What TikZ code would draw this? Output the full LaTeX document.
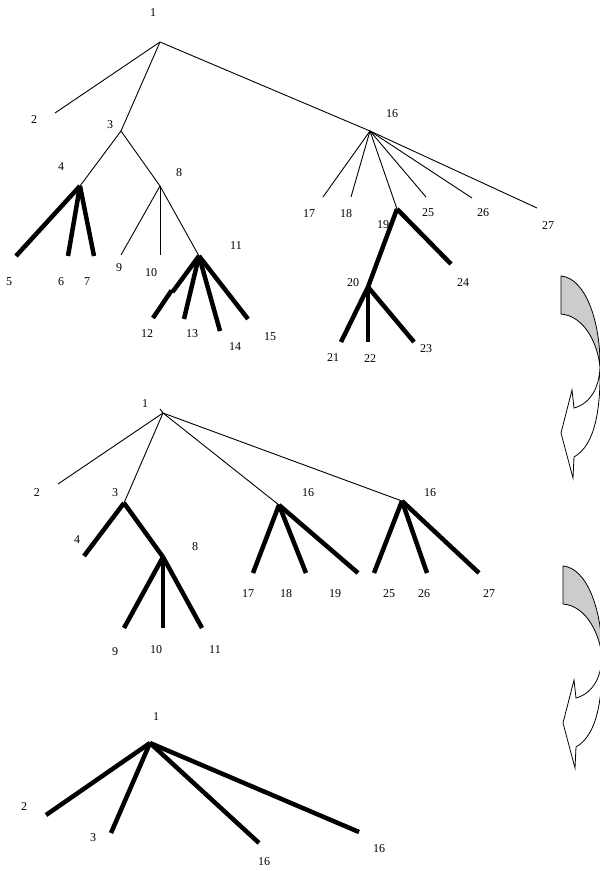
\documentclass[tikz,border=0pt]{standalone}
\usepackage{fontspec}
\setmainfont{Liberation Serif}
\begin{document}
\begin{tikzpicture}[x=1pt,y=-1pt,
  thinedge/.style={line width=0.9pt},
  thickedge/.style={line width=4.5pt},
  lbl/.style={font=\fontsize{12}{14}\selectfont, inner sep=0pt},
  backside/.style={fill=black!20, draw=black, line width=0.8pt},
  frontside/.style={fill=white, draw=black, line width=0.8pt},
  turnarrow/.pic={
    % shaded back of the ribbon
    \path[backside] (0,0) .. controls (24,2) and (39,44) .. (39,88)
      -- (39,91) .. controls (37,69) and (24,40) .. (0,38) -- cycle;
    % white front of the ribbon with its head
    \path[frontside] (39,89) .. controls (39,109) and (31,127) .. (13,132)
      -- (11,114) -- (0,157) -- (12,202) -- (13,181)
      .. controls (34,169) and (40,134) .. (39,87) -- cycle;
  }]
\useasboundingbox (0,0) rectangle (600,871);
\clip (0,0) rectangle (600,871);

% ---------- first tree ----------
\coordinate (a1) at (160,42);
\coordinate (a2) at (55,113);
\coordinate (a3) at (121,131);
\coordinate (a16) at (370,131);
\coordinate (a4) at (80,186);
\coordinate (a8) at (160,186);
\coordinate (a5) at (16,256);
\coordinate (a6) at (68,256);
\coordinate (a7) at (94,256);
\coordinate (a9) at (121,255);
\coordinate (a10) at (160,255);
\coordinate (a11) at (199,256);
\coordinate (a12k) at (172.5,292);
\coordinate (a12j) at (171.5,290.5);
\coordinate (a12) at (153,318);
\coordinate (a13) at (184,319);
\coordinate (a14) at (220,331);
\coordinate (a15) at (248,319);
\coordinate (a17) at (323,197);
\coordinate (a18) at (351,197);
\coordinate (a19) at (397,209);
\coordinate (a25) at (426,197);
\coordinate (a26) at (472,198);
\coordinate (a27) at (537,208);
\coordinate (a20) at (368,287);
\coordinate (a24) at (451,264);
\coordinate (a21) at (341,342);
\coordinate (a22) at (368,342);
\coordinate (a23) at (414,342);

\draw[thinedge] (a1) -- (a2);
\draw[thinedge] (a1) -- (a3);
\draw[thinedge] (a1) -- (a16);
\draw[thinedge] (a3) -- (a4);
\draw[thinedge] (a3) -- (a8);
\draw[thinedge] (a8) -- (a9);
\draw[thinedge] (a8) -- (a10);
\draw[thinedge] (a8) -- (a11);
\draw[thickedge] (a4) -- (a5);
\draw[thickedge] (a4) -- (a6);
\draw[thickedge] (a4) -- (a7);
\draw[thickedge] (a11) -- (a12k);
\draw[thickedge] (a12j) -- (a12);
\draw[thickedge] (a11) -- (a13);
\draw[thickedge] (a11) -- (a14);
\draw[thickedge] (a11) -- (a15);
\draw[thinedge] (a16) -- (a17);
\draw[thinedge] (a16) -- (a18);
\draw[thinedge] (a16) -- (a19);
\draw[thinedge] (a16) -- (a25);
\draw[thinedge] (a16) -- (a26);
\draw[thinedge] (a16) -- (a27);
\draw[thickedge] (a19) -- (a20);
\draw[thickedge] (a19) -- (a24);
\draw[thickedge] (a20) -- (a21);
\draw[thickedge] (a20) -- (a22);
\draw[thickedge] (a20) -- (a23);

\node[lbl] (la1) at (153,13) {1};
\node[lbl] (la2) at (34,120) {2};
\node[lbl] (la3) at (110,125) {3};
\node[lbl] (la4) at (61,167) {4};
\node[lbl] (la8) at (179,173) {8};
\node[lbl] (la5) at (9,282) {5};
\node[lbl] (la6) at (61,282) {6};
\node[lbl] (la7) at (87,282) {7};
\node[lbl] (la9) at (119,268) {9};
\node[lbl] (la10) at (151,273) {10};
\node[lbl] (la11) at (236,246) {11};
\node[lbl] (la12) at (147,334) {12};
\node[lbl] (la13) at (192,334) {13};
\node[lbl] (la14) at (235,347) {14};
\node[lbl] (la15) at (270,337) {15};
\node[lbl] (la16) at (392,114) {16};
\node[lbl] (la17) at (309,214) {17};
\node[lbl] (la18) at (346,214) {18};
\node[lbl] (la19) at (383,225) {19};
\node[lbl] (la25) at (428,213) {25};
\node[lbl] (la26) at (483,213) {26};
\node[lbl] (la27) at (548,226) {27};
\node[lbl] (la20) at (353,283) {20};
\node[lbl] (la24) at (463,283) {24};
\node[lbl] (la21) at (333,358) {21};
\node[lbl] (la22) at (370,359) {22};
\node[lbl] (la23) at (426,349) {23};

% ---------- second tree ----------
\coordinate (b1) at (163,413);
\coordinate (b1t) at (160,409);
\coordinate (b2) at (58,484);
\coordinate (b3) at (124,503);
\coordinate (b16a) at (279,505);
\coordinate (b16b) at (402,501);
\coordinate (b4) at (84,556);
\coordinate (b8) at (163,557);
\coordinate (b9) at (124,628);
\coordinate (b10) at (163,628);
\coordinate (b11) at (202,628);
\coordinate (b17) at (253,573);
\coordinate (b18) at (306,573);
\coordinate (b19) at (358,573);
\coordinate (b25) at (374,573);
\coordinate (b26) at (427,573);
\coordinate (b27) at (479,573);

\draw[thinedge] (b1t) -- (b1);
\draw[thinedge] (b1) -- (b2);
\draw[thinedge] (b1) -- (b3);
\draw[thinedge] (b1) -- (b16a);
\draw[thinedge] (b1) -- (b16b);
\draw[thickedge] (b3) -- (b4);
\draw[thickedge] (b3) -- (b8);
\draw[thickedge] (b8) -- (b9);
\draw[thickedge] (b8) -- (b10);
\draw[thickedge] (b8) -- (b11);
\draw[thickedge] (b16a) -- (b17);
\draw[thickedge] (b16a) -- (b18);
\draw[thickedge] (b16a) -- (b19);
\draw[thickedge] (b16b) -- (b25);
\draw[thickedge] (b16b) -- (b26);
\draw[thickedge] (b16b) -- (b27);

\node[lbl] (lb1) at (145,404) {1};
\node[lbl] (lb2) at (37,493) {2};
\node[lbl] (lb3) at (115,493) {3};
\node[lbl] (lb16a) at (308,493) {16};
\node[lbl] (lb16b) at (430,493) {16};
\node[lbl] (lb4) at (77,540) {4};
\node[lbl] (lb8) at (195,547) {8};
\node[lbl] (lb9) at (115,652) {9};
\node[lbl] (lb10) at (156,650) {10};
\node[lbl] (lb11) at (215,650) {11};
\node[lbl] (lb17) at (248,594) {17};
\node[lbl] (lb18) at (286,594) {18};
\node[lbl] (lb19) at (335,594) {19};
\node[lbl] (lb25) at (389,594) {25};
\node[lbl] (lb26) at (424,594) {26};
\node[lbl] (lb27) at (489,594) {27};

% ---------- third tree ----------
\coordinate (c1) at (150,743);
\coordinate (c2) at (46,815);
\coordinate (c3) at (111,833);
\coordinate (c16a) at (259,843);
\coordinate (c16b) at (359,832);

\draw[thickedge] (c1) -- (c2);
\draw[thickedge] (c1) -- (c3);
\draw[thickedge] (c1) -- (c16a);
\draw[thickedge] (c1) -- (c16b);

\node[lbl] (lc1) at (156,717) {1};
\node[lbl] (lc2) at (24,807) {2};
\node[lbl] (lc3) at (93,838) {3};
\node[lbl] (lc16a) at (264,862) {16};
\node[lbl] (lc16b) at (379,849) {16};

% ---------- curved arrows between the stages ----------
\pic at (561,276) {turnarrow};
\pic at (563,566) {turnarrow};
\end{tikzpicture}
\end{document}
